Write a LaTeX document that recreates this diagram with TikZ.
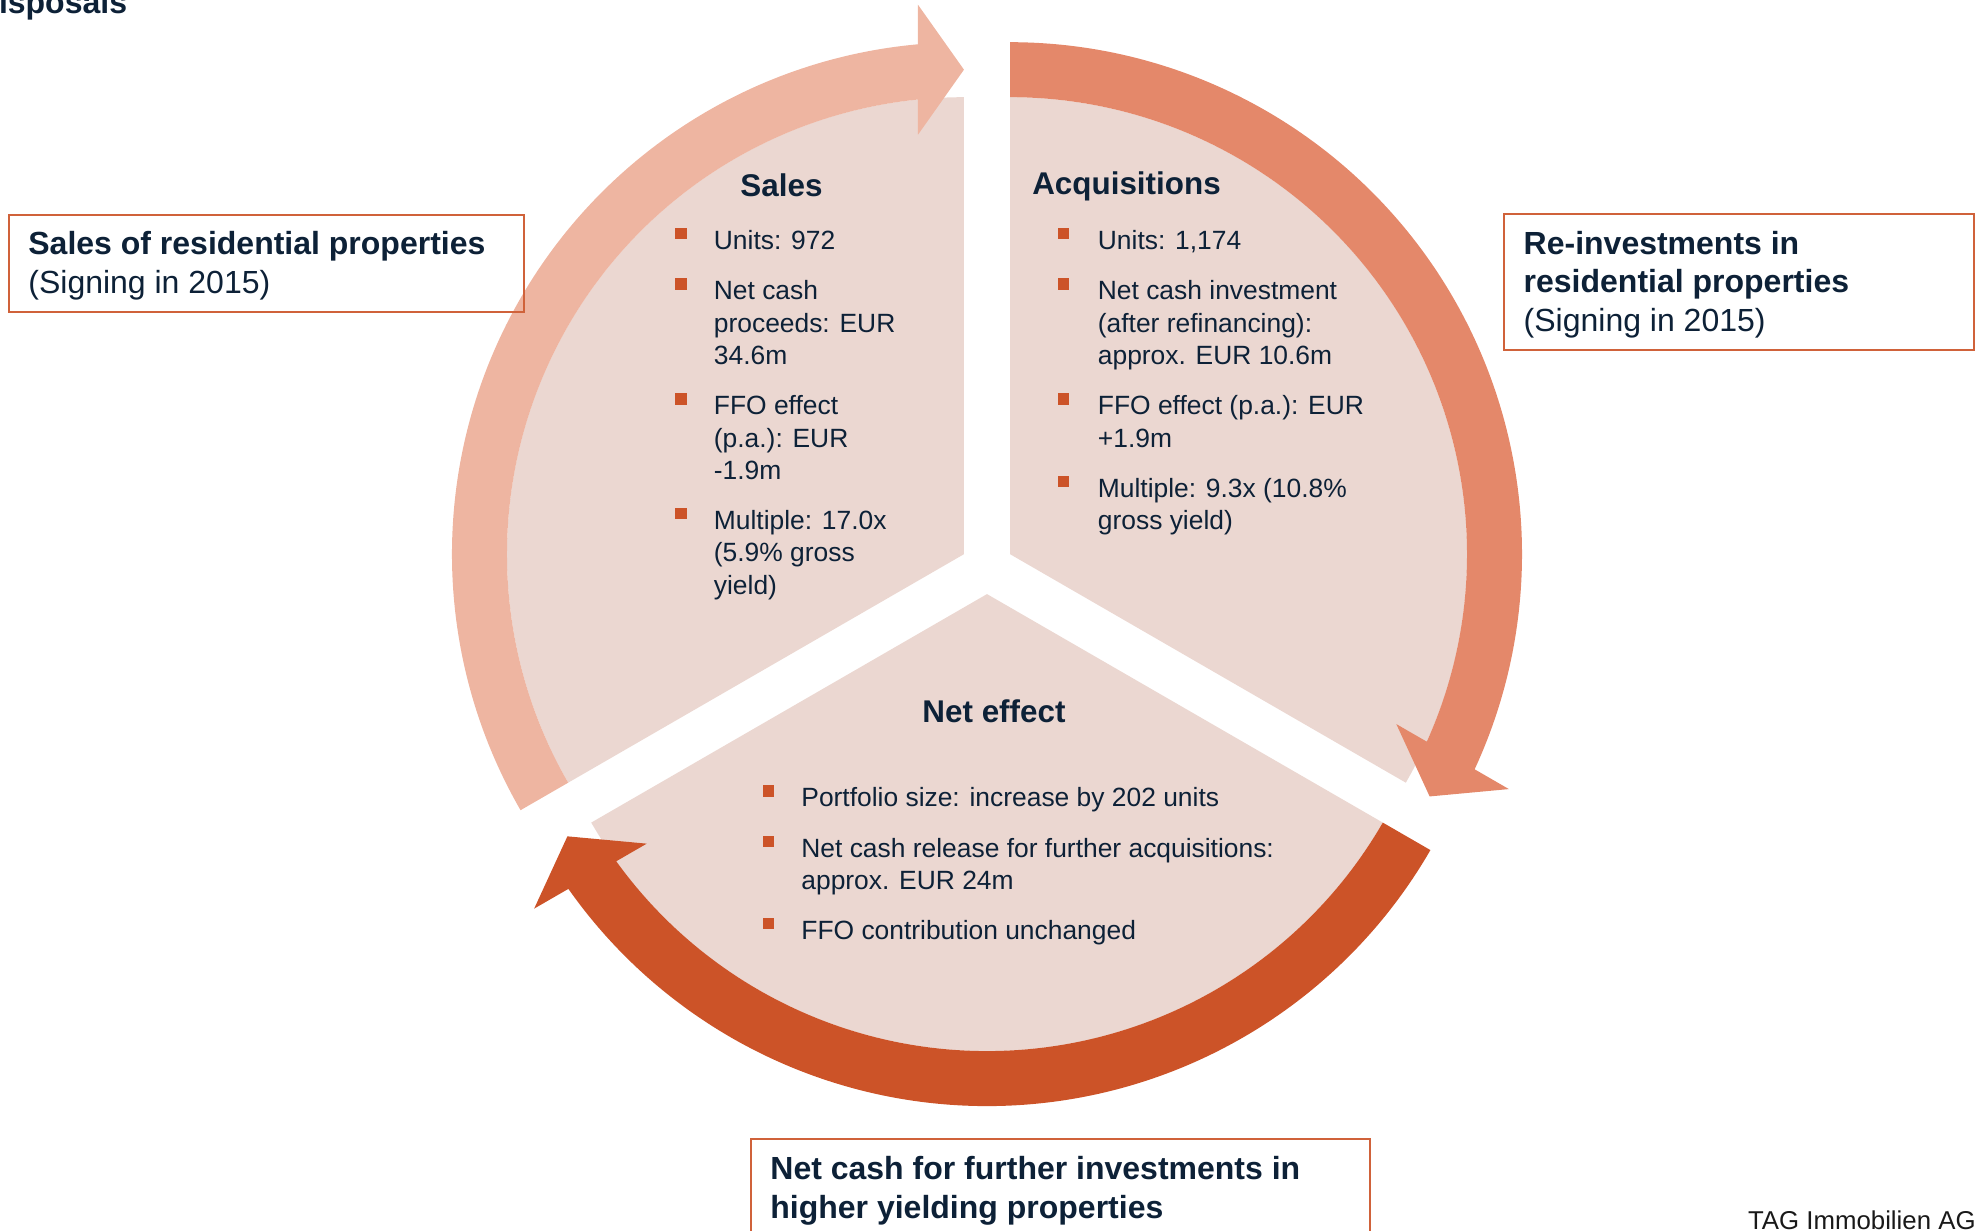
\documentclass[tikz,border=0pt]{standalone}
\usepackage{fontspec}
\setmainfont{Liberation Sans}
\definecolor{piefill}{RGB}{235,215,209}
\definecolor{salesc}{RGB}{238,181,161}
\definecolor{acqc}{RGB}{228,136,106}
\definecolor{netc}{RGB}{204,83,40}
\definecolor{txt}{RGB}{13,33,55}
\definecolor{bulc}{RGB}{204,83,40}
\definecolor{boxc}{RGB}{208,98,58}
\newcommand{\mlines}[1]{\begin{tabular}[t]{@{}l@{}}#1\end{tabular}}
\begin{document}
\begin{tikzpicture}[x=0.5pt,y=0.5pt,
  body/.style={font=\fontsize{13.2}{16.15}\selectfont, text=txt, inner sep=0pt, anchor=base west},
  heading/.style={font=\bfseries\fontsize{15.7}{19}\selectfont, text=txt, inner sep=0pt, anchor=base},
  bulletsq/.style={fill=bulc, minimum size=5.6pt, inner sep=0pt, draw=none, shape=rectangle},
  boxtext/.style={font=\fontsize{16}{19.2}\selectfont, text=txt, inner sep=0pt, anchor=base west},
  boxframe/.style={draw=boxc, line width=1pt, fill=none, inner sep=0pt, shape=rectangle, anchor=north west}
]
\useasboundingbox (0,0) rectangle (1978,1231);
\clip (0,0) rectangle (1978,1231);

% pie sectors (exploded)
\begin{scope}[shift={(963.96,676.8)}]
  \fill[piefill] (0,0) -- (90:457) arc[start angle=90,end angle=210,radius=457] -- cycle;
\end{scope}
\begin{scope}[shift={(1010.04,676.8)}]
  \fill[piefill] (0,0) -- (-30:457) arc[start angle=-30,end angle=90,radius=457] -- cycle;
\end{scope}
\begin{scope}[shift={(987,636.9)}]
  \fill[piefill] (0,0) -- (210:457) arc[start angle=210,end angle=330,radius=457] -- cycle;
\end{scope}

% ring arrows
\begin{scope}[shift={(963.96,676.8)}]
  \fill[salesc] (210:512) arc[start angle=210,end angle=95.155,radius=512]
    -- (94.785:551.4) -- (90:484.5) -- (96.258:422) -- (95.777:457)
    arc[start angle=95.777,end angle=210,radius=457] -- cycle;
\end{scope}
\begin{scope}[shift={(1010.04,676.8)}]
  \fill[acqc] (90:512) arc[start angle=90,end angle=-24.845,radius=512]
    -- (-25.215:551.4) -- (-30:484.5) -- (-23.742:422) -- (-24.223:457)
    arc[start angle=-24.223,end angle=90,radius=457] -- cycle;
\end{scope}
\begin{scope}[shift={(987,636.9)}]
  \fill[netc] (-30:512) arc[start angle=-30,end angle=-144.845,radius=512]
    -- (-145.215:551.4) -- (-150:484.5) -- (-143.742:422) -- (-144.223:457)
    arc[start angle=-144.223,end angle=-30,radius=457] -- cycle;
\end{scope}

% Sales
\node[heading] (salesh) at (781.5,1034) {Sales};
\node[bulletsq] (sb1) at (681,997.3) {};
\node[body] (st1) at (713.5,981.3) {Units: 972};
\node[bulletsq] (sb2) at (681,947) {};
\node[body] (st2) at (713.5,931) {\mlines{Net cash\\proceeds: EUR\\34.6m}};
\node[bulletsq] (sb3) at (681,832) {};
\node[body] (st3) at (713.5,816) {\mlines{FFO effect\\(p.a.): EUR\\-1.9m}};
\node[bulletsq] (sb4) at (681,717.4) {};
\node[body] (st4) at (713.5,701.4) {\mlines{Multiple: 17.0x\\(5.9\% gross\\yield)}};

% Acquisitions
\node[heading] (acqh) at (1126.5,1036) {Acquisitions};
\node[bulletsq] (ab1) at (1063.5,997.3) {};
\node[body] (at1) at (1097.5,981.3) {Units: 1,174};
\node[bulletsq] (ab2) at (1063.5,947) {};
\node[body] (at2) at (1097.5,931) {\mlines{Net cash investment\\(after refinancing):\\approx. EUR 10.6m}};
\node[bulletsq] (ab3) at (1063.5,832) {};
\node[body] (at3) at (1097.5,816) {\mlines{FFO effect (p.a.): EUR\\+1.9m}};
\node[bulletsq] (ab4) at (1063.5,749.4) {};
\node[body] (at4) at (1097.5,733.4) {\mlines{Multiple: 9.3x (10.8\%\\gross yield)}};

% Net effect
\node[heading] (neth) at (994,508) {Net effect};
\node[bulletsq] (nb1) at (768.3,440) {};
\node[body] (nt1) at (801,424) {Portfolio size: increase by 202 units};
\node[bulletsq] (nb2) at (768.3,389.7) {};
\node[body] (nt2) at (801,373.7) {\mlines{Net cash release for further acquisitions:\\approx. EUR 24m}};
\node[bulletsq] (nb3) at (768.3,307.1) {};
\node[body] (nt3) at (801,291.1) {FFO contribution unchanged};

% Boxes
\node[boxframe, minimum width=257.45pt, minimum height=48.85pt] (lbox) at (7.6,1017.2) {};
\node[boxtext] (lboxt) at (28,976) {\mlines{\textbf{Sales of residential properties}\\(Signing in 2015)}};
\node[boxframe, minimum width=235pt, minimum height=67.85pt] (rbox) at (1502.7,1017.7) {};
\node[boxtext] (rboxt) at (1523.3,976.5) {\mlines{\textbf{Re-investments in}\\\textbf{residential properties}\\(Signing in 2015)}};
\node[boxframe, minimum width=309.5pt, minimum height=60pt] (bbox) at (750,93) {};
\node[boxtext] (bboxt) at (770,51) {\mlines{\textbf{Net cash for further investments in}\\\textbf{higher yielding properties}}};

% Cut-off title and footer
\node[font=\bfseries\fontsize{16}{19}\selectfont, text=txt, inner sep=0pt, anchor=base west] (disp) at (-24.5,1217) {Disposals};
\node[font=\fontsize{12.9}{15}\selectfont, text=black!90, inner sep=0pt, anchor=base east] (tag) at (1976,1.5) {TAG Immobilien AG};
\end{tikzpicture}
\end{document}
